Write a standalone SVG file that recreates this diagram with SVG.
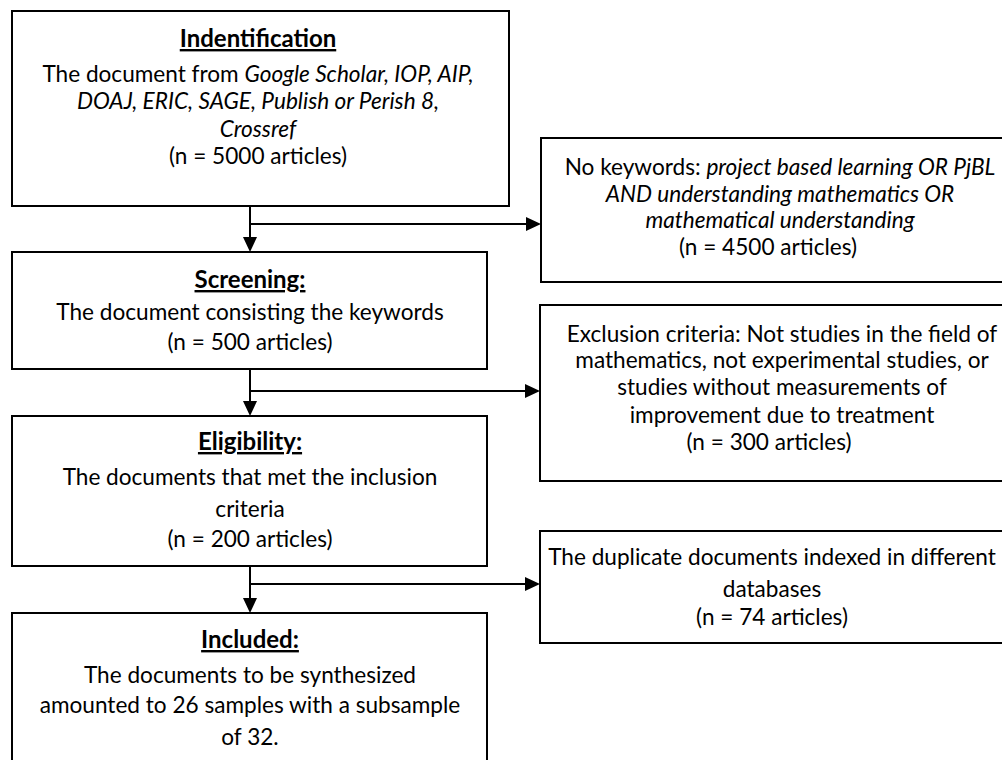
<svg xmlns="http://www.w3.org/2000/svg" width="1002" height="760" viewBox="0 0 1002 760">
<style>
.box{fill:#fff;stroke:#000;stroke-width:2}
.t{font-family:Lato,"Liberation Sans",sans-serif;font-size:22.6px;fill:#000;text-anchor:middle}
.h{font-weight:bold;text-decoration:underline;font-size:24px}
.i{font-style:italic}
.c{stroke:#000;stroke-width:2;fill:none}
.a{fill:#000}
</style>
<rect width="1002" height="760" fill="#fff"/>
<g id="connectors">
<path class="c" d="M250,206 V237"/><path class="a" d="M243,237 L257,237 L250,252 Z"/>
<path class="c" d="M250,224 H526"/><path class="a" d="M526,217 L526,231 L541,224 Z"/>
<path class="c" d="M250,369 V401"/><path class="a" d="M243,401 L257,401 L250,416 Z"/>
<path class="c" d="M250,391 H525"/><path class="a" d="M525,384 L525,398 L540,391 Z"/>
<path class="c" d="M250,566 V598"/><path class="a" d="M243,598 L257,598 L250,613 Z"/>
<path class="c" d="M250,584 H525"/><path class="a" d="M525,577 L525,591 L540,584 Z"/>
</g>
<g id="identification">
<rect class="box" x="12" y="11" width="497" height="195"/>
<text class="t h" x="258" y="47">Indentification</text>
<text class="t" x="258" y="82">The document from <tspan class="i">Google Scholar, IOP, AIP,</tspan></text>
<text class="t i" x="258" y="109">DOAJ, ERIC, SAGE, Publish or Perish 8,</text>
<text class="t i" x="258" y="137">Crossref</text>
<text class="t" x="258" y="164">(n = 5000 articles)</text>
</g>
<g id="screening">
<rect class="box" x="12" y="252" width="475" height="117"/>
<text class="t h" x="250" y="288">Screening:</text>
<text class="t" x="250" y="320">The document consisting the keywords</text>
<text class="t" x="250" y="350">(n = 500 articles)</text>
</g>
<g id="eligibility">
<rect class="box" x="12" y="416" width="475" height="150"/>
<text class="t h" x="250" y="450">Eligibility:</text>
<text class="t" x="250" y="485">The documents that met the inclusion</text>
<text class="t" x="250" y="517">criteria</text>
<text class="t" x="250" y="547">(n = 200 articles)</text>
</g>
<g id="included">
<rect class="box" x="12" y="613" width="475" height="152"/>
<text class="t h" x="250" y="648">Included:</text>
<text class="t" x="250" y="683">The documents to be synthesized</text>
<text class="t" x="250" y="713">amounted to 26 samples with a subsample</text>
<text class="t" x="250" y="745">of 32.</text>
</g>
<g id="no-keywords">
<rect class="box" x="541" y="138" width="470" height="144"/>
<text class="t" x="780" y="175">No keywords: <tspan class="i">project based learning OR PjBL</tspan></text>
<text class="t i" x="780" y="202">AND understanding mathematics OR</text>
<text class="t i" x="780" y="228">mathematical understanding</text>
<text class="t" x="768" y="255">(n = 4500 articles)</text>
</g>
<g id="exclusion">
<rect class="box" x="540" y="305" width="470" height="176"/>
<text class="t" x="782" y="342">Exclusion criteria: Not studies in the field of</text>
<text class="t" x="782" y="368">mathematics, not experimental studies, or</text>
<text class="t" x="782" y="395">studies without measurements of</text>
<text class="t" x="782" y="423">improvement due to treatment</text>
<text class="t" x="769" y="450">(n = 300 articles)</text>
</g>
<g id="duplicates">
<rect class="box" x="540" y="531" width="470" height="112"/>
<text class="t" x="772" y="565">The duplicate documents indexed in different</text>
<text class="t" x="772" y="597">databases</text>
<text class="t" x="772" y="625">(n = 74 articles)</text>
</g>
</svg>
